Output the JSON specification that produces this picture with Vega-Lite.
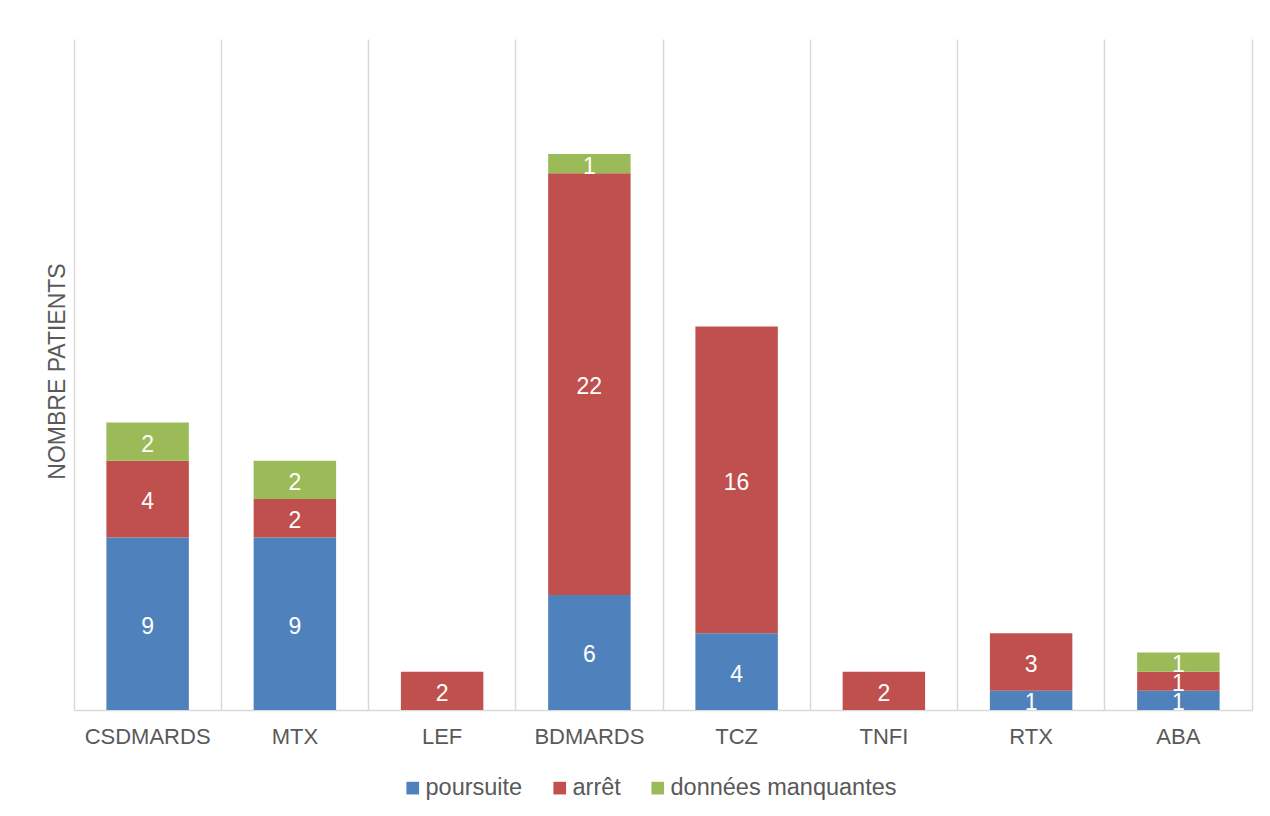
{
  "$schema": "https://vega.github.io/schema/vega-lite/v6.json",
  "width": 1178,
  "height": 671,
  "autosize": {"type": "none"},
  "padding": {"left": 74, "top": 39, "right": 18, "bottom": 106},
  "background": "white",
  "config": {
    "font": "Liberation Sans",
    "view": {"stroke": null}
  },
  "data": {
    "values": [
      {"traitement": "CSDMARDS", "statut": "poursuite", "ordre": 1, "n": 9},
      {"traitement": "CSDMARDS", "statut": "arrêt", "ordre": 2, "n": 4},
      {"traitement": "CSDMARDS", "statut": "données manquantes", "ordre": 3, "n": 2},
      {"traitement": "MTX", "statut": "poursuite", "ordre": 1, "n": 9},
      {"traitement": "MTX", "statut": "arrêt", "ordre": 2, "n": 2},
      {"traitement": "MTX", "statut": "données manquantes", "ordre": 3, "n": 2},
      {"traitement": "LEF", "statut": "arrêt", "ordre": 2, "n": 2},
      {"traitement": "BDMARDS", "statut": "poursuite", "ordre": 1, "n": 6},
      {"traitement": "BDMARDS", "statut": "arrêt", "ordre": 2, "n": 22},
      {"traitement": "BDMARDS", "statut": "données manquantes", "ordre": 3, "n": 1},
      {"traitement": "TCZ", "statut": "poursuite", "ordre": 1, "n": 4},
      {"traitement": "TCZ", "statut": "arrêt", "ordre": 2, "n": 16},
      {"traitement": "TNFI", "statut": "arrêt", "ordre": 2, "n": 2},
      {"traitement": "RTX", "statut": "poursuite", "ordre": 1, "n": 1},
      {"traitement": "RTX", "statut": "arrêt", "ordre": 2, "n": 3},
      {"traitement": "ABA", "statut": "poursuite", "ordre": 1, "n": 1},
      {"traitement": "ABA", "statut": "arrêt", "ordre": 2, "n": 1},
      {"traitement": "ABA", "statut": "données manquantes", "ordre": 3, "n": 1}
    ]
  },
  "encoding": {
    "x": {
      "field": "traitement",
      "type": "nominal",
      "sort": ["CSDMARDS", "MTX", "LEF", "BDMARDS", "TCZ", "TNFI", "RTX", "ABA"],
      "scale": {"paddingInner": 0, "paddingOuter": 0},
      "axis": {
        "title": null,
        "labelAngle": 0,
        "labelFontSize": 22,
        "labelColor": "#595959",
        "labelPadding": 16,
        "ticks": false,
        "domainColor": "#d9d9d9",
        "domainWidth": 1.5,
        "grid": true,
        "gridColor": "#d9d9d9",
        "gridWidth": 1.5,
        "bandPosition": 0
      }
    },
    "order": {"field": "ordre", "type": "quantitative", "sort": "ascending"}
  },
  "layer": [
    {
      "mark": {"type": "bar", "width": {"band": 0.56}},
      "encoding": {
        "y": {
          "field": "n",
          "type": "quantitative",
          "stack": "zero",
          "scale": {"domain": [0, 35], "nice": false},
          "axis": {
            "title": "NOMBRE PATIENTS",
            "titleFontSize": 23,
            "titleFontWeight": "normal",
            "titleColor": "#595959",
            "titlePadding": 5,
            "titleY": 332,
            "labels": false,
            "ticks": false,
            "domain": false,
            "grid": false
          }
        },
        "color": {
          "field": "statut",
          "type": "nominal",
          "scale": {
            "domain": ["poursuite", "arrêt", "données manquantes"],
            "range": ["#4F81BD", "#C0504D", "#9BBB59"]
          },
          "legend": {
            "title": null,
            "orient": "none",
            "legendX": 327,
            "legendY": 737,
            "direction": "horizontal",
            "symbolType": "square",
            "symbolSize": 160,
            "symbolStrokeWidth": 0,
            "labelFontSize": 23.5,
            "labelColor": "#595959",
            "labelOffset": 1,
            "labelLimit": 400,
            "columnPadding": 25
          }
        }
      }
    },
    {
      "mark": {"type": "text", "color": "white", "fontSize": 23, "baseline": "middle", "align": "center", "dy": 3},
      "encoding": {
        "y": {
          "field": "n",
          "type": "quantitative",
          "stack": "zero",
          "bandPosition": 0.5,
          "scale": {"domain": [0, 35], "nice": false},
          "axis": {
            "orient": "right",
            "title": null,
            "labels": false,
            "ticks": false,
            "grid": false,
            "domain": true,
            "domainColor": "#d9d9d9",
            "domainWidth": 1.5
          }
        },
        "text": {"field": "n", "type": "quantitative"}
      }
    }
  ],
  "resolve": {"axis": {"y": "independent"}}
}
